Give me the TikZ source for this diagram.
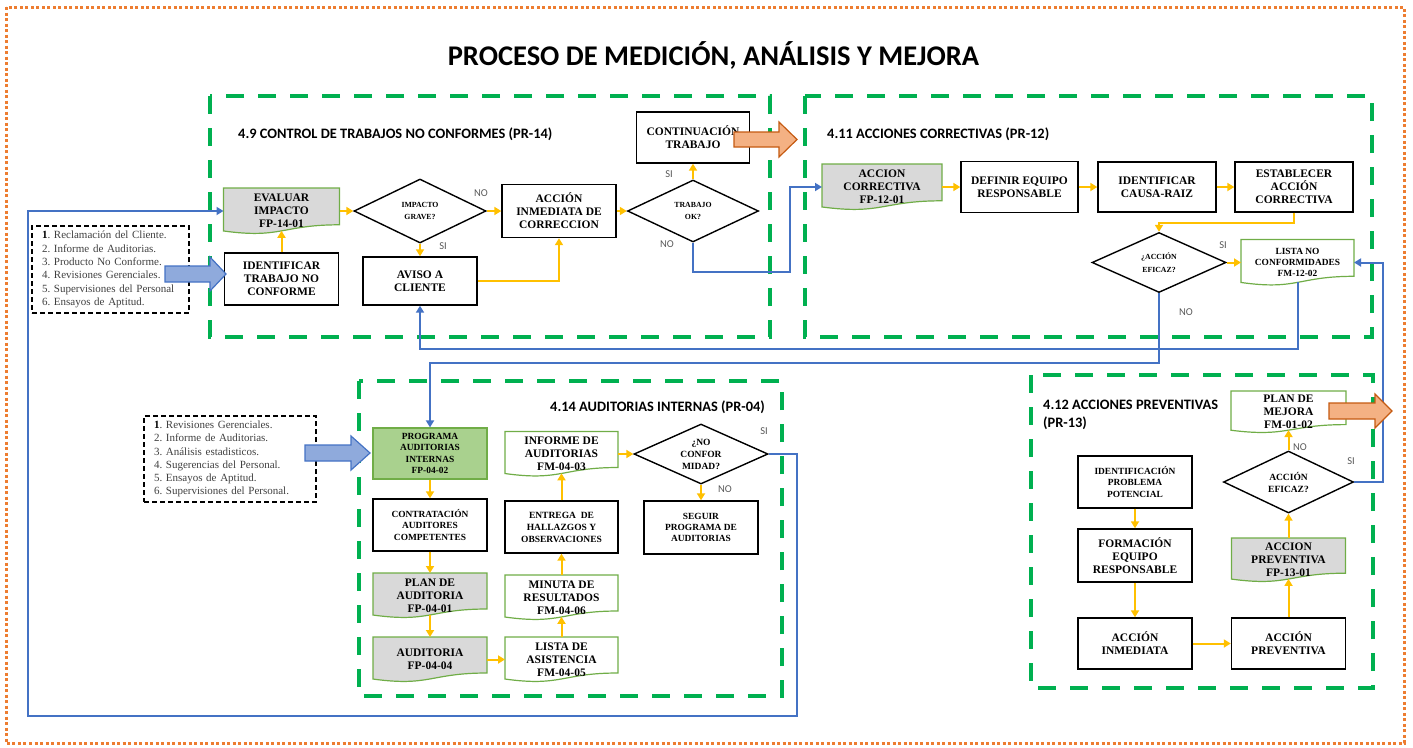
\documentclass[tikz,border=0pt]{standalone}
\usepackage{fontspec}
\setmainfont{Liberation Serif}
\newfontfamily\calibri{Carlito}
\usetikzlibrary{shapes.geometric,arrows.meta,calc}
\definecolor{yel}{HTML}{FFC000}
\definecolor{blu}{HTML}{4472C4}
\definecolor{secg}{HTML}{00B050}
\definecolor{docg}{HTML}{70AD47}
\definecolor{grayf}{HTML}{D9D9D9}
\definecolor{frameo}{HTML}{ED7D31}
\definecolor{arrof}{HTML}{F4B183}
\definecolor{arrod}{HTML}{C55A11}
\definecolor{bluef}{HTML}{8FAADC}
\definecolor{greenf}{HTML}{A9D18E}
\definecolor{txtg}{HTML}{404040}
\definecolor{lblg}{HTML}{595959}
\pgfdeclarelayer{back}
\pgfdeclarelayer{bg}
\pgfsetlayers{back,bg,main}
\newcommand\fA{\fontsize{11.5pt}{13pt}\selectfont\bfseries}
\newcommand\fB{\fontsize{9.4pt}{11.4pt}\selectfont\bfseries}
\newcommand\fC{\fontsize{7.8pt}{12.5pt}\selectfont\bfseries}
\newcommand\fD{\fontsize{9.5pt}{12pt}\selectfont\bfseries}
\newcommand\docbg[2]{%
  \begin{pgfonlayer}{bg}
  \filldraw[draw=docg, line width=1.2pt, fill=#2] (#1.north west) -- (#1.north east)
    -- ($(#1.south east)!0.2!(#1.north east)$)
    .. controls ($(#1.south)!0.2!(#1.north)$) and ($(#1.south)!-0.108!(#1.north)$)
    .. ($(#1.south west)!0.066!(#1.north west)$) -- cycle;
  \end{pgfonlayer}}
\tikzset{
  box/.style={draw=black, line width=1.4pt, fill=white, minimum width=114pt, minimum height=52pt, inner sep=1pt, align=center, font=\fA},
  docn/.style={minimum width=114pt, minimum height=45pt, inner sep=1pt, outer sep=0pt, align=center, font=\fA},
  dia/.style={diamond, draw=black, line width=1.4pt, aspect=2, inner sep=0pt, align=center, fill=white},
  yarr/.style={draw=yel, line width=2pt, -{Triangle[length=7pt,width=8pt]}},
  barr/.style={draw=blu, line width=2pt, -{Triangle[length=7pt,width=8pt]}},
  sect/.style={draw=secg, line width=4pt, dash pattern=on 18pt off 14pt},
  sectt/.style={anchor=base west, inner sep=0pt, font=\calibri\fontsize{14.4pt}{17pt}\selectfont\bfseries},
  lbl/.style={font=\calibri\fontsize{10.5pt}{12pt}\selectfont, text=lblg, inner sep=0pt},
  listbox/.style={draw=black, line width=1.3pt, dash pattern=on 5pt off 3pt, align=left, inner xsep=10pt, inner ysep=2pt, font=\fontsize{11pt}{13.3pt}\selectfont\frenchspacing, text=txtg},
  bigblue/.style={draw=blu, fill=bluef, line width=1.2pt, line join=miter},
  bigorange/.style={draw=arrod, fill=arrof, line width=1.2pt, line join=miter}
}
\begin{document}
\begin{tikzpicture}[x=1pt,y=-1pt]
\useasboundingbox (0,0) rectangle (1413,747);
\begin{pgfonlayer}{back}
\draw[frameo, line width=3pt, dash pattern=on 3pt off 2.5pt] (6,7) rectangle (1404,743);
\draw[sect] (210,96) rectangle (770,337);
\draw[sect] (805,96) rectangle (1372,337);
\draw[sect] (359,381) rectangle (782,696);
\draw[sect] (1031,375) rectangle (1373,688);
\end{pgfonlayer}

% titles
\node[anchor=base, font=\calibri\fontsize{28.5pt}{34pt}\selectfont\bfseries] (title) at (713.5,65) {PROCESO DE MEDICIÓN, ANÁLISIS Y MEJORA};
\node[sectt] (t49) at (238,138.5) {4.9 CONTROL DE TRABAJOS NO CONFORMES (PR-14)};
\node[sectt] (t411) at (827,138) {4.11 ACCIONES CORRECTIVAS (PR-12)};
\node[sectt] (t414) at (550,411) {4.14 AUDITORIAS INTERNAS (PR-04)};
\node[sectt] (t412a) at (1043,409) {4.12 ACCIONES PREVENTIVAS};
\node[sectt] (t412b) at (1043,427) {(PR-13)};

% lists
\node[listbox, text width=137pt, minimum height=87pt] (list1) at (110.5,269.5)
 {\textcolor{black}{\textbf{1}}. Reclamación del Cliente.\\2. Informe de Auditorias.\\3. Producto No Conforme.\\4. Revisiones Gerenciales.\\5. Supervisiones del Personal\\6. Ensayos de Aptitud.};
\node[listbox, text width=152pt, minimum height=86pt] (list2) at (230,459)
 {\textcolor{black}{\textbf{1}}. Revisiones Gerenciales.\\2. Informe de Auditorias.\\3. Análisis estadisticos.\\4. Sugerencias del Personal.\\5. Ensayos de Aptitud.\\6. Supervisiones del Personal.};

% section 4.9
\node[docn, minimum width=116pt, minimum height=46pt] (evaluar) at (281.5,211) {EVALUAR\\IMPACTO\\FP-14-01};
\docbg{evaluar}{grayf}
\node[box] (identif) at (281.5,279) {IDENTIFICAR\\TRABAJO NO\\CONFORME};
\node[dia, minimum width=132pt, minimum height=64pt, font=\fC] (impacto) at (420,211) {IMPACTO\\GRAVE?};
\node[box, minimum height=53pt] (accinm) at (559,211) {ACCIÓN\\INMEDIATA DE\\CORRECCION};
\node[box, minimum height=48pt] (aviso) at (420,281) {AVISO A\\CLIENTE};
\node[dia, minimum width=131pt, minimum height=62pt, font=\fC] (trabajo) at (693,211) {TRABAJO\\OK?};
\node[box, minimum width=113pt, minimum height=51pt] (contin) at (693,137.5) {CONTINUACIÓN\\TRABAJO};

% section 4.11
\node[docn, minimum width=120pt, minimum height=46pt] (acccorr) at (882,187) {ACCION\\CORRECTIVA\\FP-12-01};
\docbg{acccorr}{grayf}
\node[box, minimum width=117pt, minimum height=51pt] (definir) at (1019.5,187) {DEFINIR EQUIPO\\RESPONSABLE};
\node[box, minimum width=118pt, minimum height=50pt] (causa) at (1157,187) {IDENTIFICAR\\CAUSA-RAIZ};
\node[box, minimum width=118pt, minimum height=50pt] (estab) at (1294,187) {ESTABLECER\\ACCIÓN\\CORRECTIVA};
\node[dia, minimum width=134pt, minimum height=60pt, font=\fC] (eficaz1) at (1159,262.5) {¿ACCIÓN\\EFICAZ?};
\node[docn, minimum width=113pt, minimum height=46pt, font=\fB] (listanc) at (1297.5,262.5) {LISTA NO\\CONFORMIDADES\\FM-12-02};
\docbg{listanc}{white}

% section 4.14
\node[box, draw=docg, line width=1.2pt, fill=greenf, minimum height=51pt, font=\fB] (programa) at (430,453.5) {PROGRAMA\\AUDITORIAS\\INTERNAS\\FP-04-02};
\node[box, font=\fB] (contrat) at (430,525) {CONTRATACIÓN\\AUDITORES\\COMPETENTES};
\node[docn] (plan) at (430,595.5) {PLAN DE\\AUDITORIA\\FP-04-01};
\docbg{plan}{grayf}
\node[docn] (auditoria) at (430,659.5) {AUDITORIA\\FP-04-04};
\docbg{auditoria}{grayf}
\node[docn, minimum width=113pt] (lista2) at (561.5,659.5) {LISTA DE\\ASISTENCIA\\FM-04-05};
\docbg{lista2}{white}
\node[docn, minimum width=113pt] (minuta) at (561.5,597.5) {MINUTA DE\\RESULTADOS\\FM-04-06};
\docbg{minuta}{white}
\node[box, minimum width=113pt, font=\fD] (entrega) at (561.5,527) {ENTREGA~ DE\\HALLAZGOS Y\\OBSERVACIONES};
\node[docn, minimum width=113pt] (informe) at (561.5,454) {INFORME DE\\AUDITORIAS\\FM-04-03};
\docbg{informe}{white}
\node[dia, minimum width=134pt, minimum height=60pt, font=\fD] (noconf) at (701,454) {¿NO\\CONFOR\\MIDAD?};
\node[box, minimum height=53pt, font=\fB] (seguir) at (701,527.5) {SEGUIR\\PROGRAMA DE\\AUDITORIAS};

% section 4.12
\node[docn, minimum width=115pt, minimum height=42pt] (planmej) at (1288.5,412) {PLAN DE\\MEJORA\\FM-01-02};
\docbg{planmej}{white}
\node[dia, minimum width=130pt, minimum height=62pt, font=\fD] (eficaz2) at (1288.5,482) {ACCIÓN\\EFICAZ?};
\node[docn, minimum height=44pt] (accprevdoc) at (1288.5,560) {ACCION\\PREVENTIVA\\FP-13-01};
\docbg{accprevdoc}{grayf}
\node[box, minimum height=51pt] (accprev) at (1288.5,643.5) {ACCIÓN\\PREVENTIVA};
\node[box, minimum height=51pt] (accinm2) at (1135,643.5) {ACCIÓN\\INMEDIATA};
\node[box, minimum height=53pt] (formacion) at (1135,555.5) {FORMACIÓN\\EQUIPO\\RESPONSABLE};
\node[box, font=\fB] (identprob) at (1135,482) {IDENTIFICACIÓN\\PROBLEMA\\POTENCIAL};

% labels
\node[lbl] (l1) at (481,193) {NO};
\node[lbl] (l2) at (443,246) {SI};
\node[lbl] (l3) at (669,174) {SI};
\node[lbl] (l4) at (667,244) {NO};
\node[lbl] (l5) at (1223,245) {SI};
\node[lbl] (l6) at (1186,312) {NO};
\node[lbl] (l7) at (764,431) {SI};
\node[lbl] (l8) at (725,489) {NO};
\node[lbl] (l9) at (1300,447) {NO};
\node[lbl] (l10) at (1351,461) {SI};

% coordinates for routed lines
\coordinate (cb1) at (790,272);
\coordinate (ce1) at (1159,223);
\coordinate (cn1) at (430,363);
\coordinate (cn2) at (420,349);
\coordinate (cl1) at (797,716);
\coordinate (cl2) at (28,716);
\coordinate (cr1) at (1383,262.5);

% connectors 4.9
\draw[yarr] (identif.north) -- ($(evaluar.south)!0.07!(evaluar.north)$);
\draw[yarr] (evaluar.east) -- (impacto.west);
\draw[yarr] (impacto.south) -- (aviso.north);
\draw[yarr] (impacto.east) -- (accinm.west);
\draw[yarr] (aviso.east) -| (accinm.south);
\draw[yarr] (accinm.east) -- (trabajo.west);
\draw[yarr] (trabajo.north) -- (contin.south);
\draw[barr] (trabajo.south) |- (cb1) |- (acccorr.west);

% connectors 4.11
\draw[yarr] (acccorr.east) -- (definir.west);
\draw[yarr] (definir.east) -- (causa.west);
\draw[yarr] (causa.east) -- (estab.west);
\draw[yarr] (estab.south) |- (ce1) -- (eficaz1.north);
\draw[yarr] (eficaz1.east) -- (listanc.west);
\draw[barr] (eficaz1.south) |- (cn1) -- (programa.north);
\draw[barr] ($(listanc.south)!0.07!(listanc.north)$) |- (cn2) -- (aviso.south);

% connectors 4.14
\draw[yarr] (programa.south) -- (contrat.north);
\draw[yarr] (contrat.south) -- (plan.north);
\draw[yarr] ($(plan.south)!0.07!(plan.north)$) -- (auditoria.north);
\draw[yarr] (auditoria.east) -- (lista2.west);
\draw[yarr] (lista2.north) -- ($(minuta.south)!0.07!(minuta.north)$);
\draw[yarr] (minuta.north) -- (entrega.south);
\draw[yarr] (entrega.north) -- ($(informe.south)!0.07!(informe.north)$);
\draw[yarr] (informe.east) -- (noconf.west);
\draw[yarr] (noconf.south) -- (seguir.north);
\draw[barr] (noconf.east) -| (cl1) -- (cl2) |- (evaluar.west);

% connectors 4.12
\draw[yarr] (identprob.south) -- (formacion.north);
\draw[yarr] (formacion.south) -- (accinm2.north);
\draw[yarr] (accinm2.east) -- (accprev.west);
\draw[yarr] (accprev.north) -- ($(accprevdoc.south)!0.07!(accprevdoc.north)$);
\draw[yarr] (accprevdoc.north) -- (eficaz2.south);
\draw[yarr] (eficaz2.north) -- ($(planmej.south)!0.07!(planmej.north)$);
\draw[barr] (eficaz2.east) -| (cr1) -- (listanc.east);

% block arrows
\filldraw[bigblue] (165,266) -- (210,266) -- (210,257) -- (226,274) -- (210,291) -- (210,282) -- (165,282) -- cycle;
\filldraw[bigblue] (305,445) -- (351,445) -- (351,436) -- (370,453) -- (351,470) -- (351,461) -- (305,461) -- cycle;
\filldraw[bigorange] (734,132) -- (779,132) -- (779,122) -- (797,139.5) -- (779,157) -- (779,147) -- (734,147) -- cycle;
\filldraw[bigorange] (1329,403) -- (1375,403) -- (1375,394) -- (1392,411) -- (1375,428) -- (1375,419) -- (1329,419) -- cycle;
\end{tikzpicture}
\end{document}
